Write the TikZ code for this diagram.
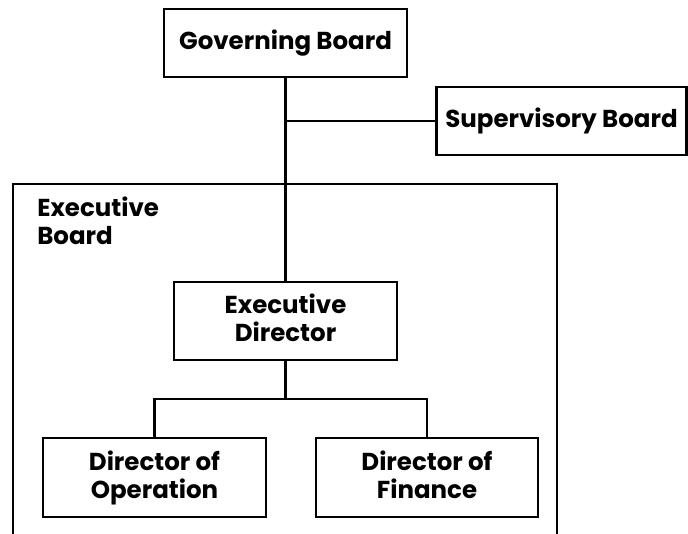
\documentclass[tikz,border=0pt]{standalone}
\usepackage{fontspec}
\setmainfont{Poppins}
\begin{document}
\begin{tikzpicture}[x=1pt,y=-1pt,line width=2.5pt]
    \tikzset{box/.style={draw,rectangle,align=center,inner sep=0pt,
      font=\bfseries\fontsize{24.5}{28}\selectfont,
      execute at begin node=\vphantom{Dp},execute at end node=\vphantom{Dp}}}
    \useasboundingbox (0,0) rectangle (688,534);
    \clip (0,0) rectangle (688,534);
    \node [box,minimum width=243,minimum height=68] (gov) at (285.5,43) {Governing Board};
    \node [box,minimum width=250,minimum height=68] (sup) at (561.5,121) {Supervisory Board};
    \draw [black] (13,184) rectangle (557,560);
    \node [align=left,anchor=north west,inner sep=0pt,
      font=\bfseries\fontsize{24.5}{28}\selectfont] (exb) at (36,196) {Executive\\Board};
    \node [box,minimum width=223,minimum height=78] (exd) at (285.5,321) {Executive\\Director};
    \node [box,minimum width=223,minimum height=79] (dop) at (154.5,477.5) {Director of\\Operation};
    \node [box,minimum width=222,minimum height=79] (dfi) at (427,477.5) {Director of\\Finance};
    \coordinate (join) at (gov.south |- sup.west);
    \coordinate (split) at (285.5,399);
    \draw [black] (gov.south) -- (exd.north);
    \draw [black] (join) -- (sup.west);
    \draw [black] (exd.south) -- (split);
    \draw [black] (dop.north) |- (split) -| (dfi.north);
\end{tikzpicture}
\end{document}
